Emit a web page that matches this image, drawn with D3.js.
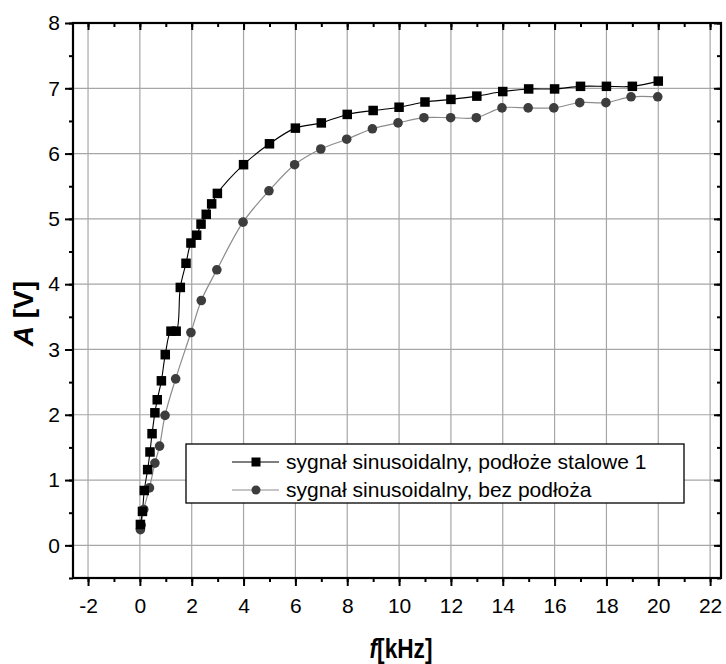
<!doctype html>
<html lang="pl">
<head>
	<meta charset="utf-8">
	<title>A(f)</title>
	<script src="https://cdn.jsdelivr.net/npm/d3@7"></script>
	<style>
		body { margin:0; background:#fff; }
		text { font-family: "Liberation Sans", Arial, sans-serif; }
	</style>
</head>
<body>
	<svg id="chart" width="726" height="664"></svg>
	<script>
		var fStal = [0.02,0.1,0.17,0.3,0.39,0.47,0.58,0.67,0.83,0.98,1.2,1.4,1.56,1.78,1.97,2.19,2.36,2.56,2.77,2.99,4,5,6,7,8,9,10,11,12,13,14,15,16,17,18,19,20];
		var aStal = [0.32,0.52,0.84,1.16,1.43,1.71,2.03,2.23,2.52,2.92,3.28,3.28,3.95,4.32,4.63,4.75,4.92,5.07,5.23,5.39,5.83,6.15,6.39,6.47,6.6,6.66,6.71,6.79,6.83,6.88,6.95,6.99,6.99,7.03,7.03,7.03,7.11];
		var fBez = [0.02,0.05,0.15,0.37,0.58,0.76,0.97,1.38,1.97,2.37,2.97,3.98,4.98,5.97,6.98,7.98,8.97,9.96,10.96,11.99,12.98,13.97,14.98,15.97,16.97,17.98,18.95,19.98];
		var aBez = [0.24,0.31,0.55,0.88,1.26,1.52,1.99,2.55,3.26,3.75,4.22,4.95,5.43,5.83,6.07,6.22,6.38,6.47,6.55,6.55,6.55,6.7,6.7,6.7,6.78,6.78,6.87,6.87];
		var xTicks = [-2,0,2,4,6,8,10,12,14,16,18,20,22];
		var yTicks = [0,1,2,3,4,5,6,7,8];
		var legendLabels = ["sygnał sinusoidalny, podłoże stalowe 1", "sygnał sinusoidalny, bez podłoża"];

		var svg = d3.select("#chart");
		var pLeft = 73, pRight = 721, pTop = 23, pBottom = 578;

		var xScale = d3.scaleLinear().domain([-2.58, 22.42]).range([pLeft, pRight]);
		var yScale = d3.scaleLinear().domain([-0.5, 8]).range([pBottom, pTop]);

		var xMinor = d3.range(-2, 22.5, 1);
		var yMinor = d3.range(-0.5, 8.01, 0.5);
		var plain = function(d) {return String(d)};

		// siatka
		svg.append("g").selectAll("line")
			.data(xTicks)
			.enter()
			.append("line")
			.attr("x1", function(d) {return xScale(d)})
			.attr("x2", function(d) {return xScale(d)})
			.attr("y1", pTop).attr("y2", pBottom)
			.style("stroke", "#a6a6a6").style("stroke-width", 1.2);
		svg.append("g").selectAll("line")
			.data(yTicks.slice(0, -1))
			.enter()
			.append("line")
			.attr("y1", function(d) {return yScale(d)})
			.attr("y2", function(d) {return yScale(d)})
			.attr("x1", pLeft).attr("x2", pRight)
			.style("stroke", "#a6a6a6").style("stroke-width", 1.2);

		// osie: dol i lewa z opisami, gora i prawa bez
		var xAxis = d3.axisBottom(xScale).tickValues(xTicks).tickSize(8).tickPadding(12).tickFormat(plain);
		var yAxis = d3.axisLeft(yScale).tickValues(yTicks).tickSize(8).tickPadding(5).tickFormat(plain);
		var xMinAxis = d3.axisBottom(xScale).tickValues(xMinor).tickSize(4).tickFormat("");
		var yMinAxis = d3.axisLeft(yScale).tickValues(yMinor).tickSize(4).tickFormat("");

		svg.append("g").attr("class", "ax").attr("transform", "translate(0," + pBottom + ")").call(xAxis);
		svg.append("g").attr("class", "ax").attr("transform", "translate(0," + pBottom + ")").call(xMinAxis);
		svg.append("g").attr("class", "ax").attr("transform", "translate(" + pLeft + ",0)").call(yAxis);
		svg.append("g").attr("class", "ax").attr("transform", "translate(" + pLeft + ",0)").call(yMinAxis);
		svg.append("g").attr("class", "ax").attr("transform", "translate(0," + pTop + ")")
			.call(d3.axisBottom(xScale).tickValues(xTicks).tickSize(7).tickFormat(""));
		svg.append("g").attr("class", "ax").attr("transform", "translate(0," + pTop + ")")
			.call(d3.axisBottom(xScale).tickValues(xMinor).tickSize(4).tickFormat(""));
		svg.append("g").attr("class", "ax").attr("transform", "translate(" + pRight + ",0)")
			.call(d3.axisLeft(yScale).tickValues(yTicks).tickSize(7).tickFormat(""));
		svg.append("g").attr("class", "ax").attr("transform", "translate(" + pRight + ",0)")
			.call(d3.axisLeft(yScale).tickValues(yMinor).tickSize(4).tickFormat(""));

		svg.selectAll("g.ax path").remove();
		svg.selectAll("g.ax line").style("stroke", "#000").style("stroke-width", 2);
		svg.selectAll("g.ax text").style("font-size", "21px").style("fill", "#000")
			.style("font-family", "'Liberation Sans', Arial, sans-serif");

		// ramka
		svg.append("rect")
			.attr("x", pLeft).attr("y", pTop)
			.attr("width", pRight - pLeft).attr("height", pBottom - pTop)
			.style("fill", "none").style("stroke", "#000").style("stroke-width", 2.2);

		// krzywe
		var stal = fStal.map(function(d, i) {return [d, aStal[i]]});
		var bez = fBez.map(function(d, i) {return [d, aBez[i]]});
		var line = d3.line().curve(d3.curveCatmullRom)
			.x(function(d) {return xScale(d[0])})
			.y(function(d) {return yScale(d[1])});

		svg.append("path").attr("d", line(bez))
			.attr("fill", "none").attr("stroke", "#8c8c8c").attr("stroke-width", 1.2);
		svg.append("path").attr("d", line(stal))
			.attr("fill", "none").attr("stroke", "#000").attr("stroke-width", 1.1);

		svg.selectAll("circle.bez")
			.data(bez)
			.enter()
			.append("circle")
			.attr("class", "bez")
			.attr("r", 4.8)
			.attr("cx", function(d) {return xScale(d[0])})
			.attr("cy", function(d) {return yScale(d[1])})
			.style("fill", "#3d3d3d");

		svg.selectAll("rect.stal")
			.data(stal)
			.enter()
			.append("rect")
			.attr("class", "stal")
			.attr("width", 9.5).attr("height", 9.5)
			.attr("x", function(d) {return xScale(d[0]) - 4.75})
			.attr("y", function(d) {return yScale(d[1]) - 4.75})
			.style("fill", "#000");

		// legenda
		var leg = svg.append("g");
		leg.append("rect")
			.attr("x", 186).attr("y", 444).attr("width", 498).attr("height", 59)
			.style("fill", "#fff").style("stroke", "#000").style("stroke-width", 1.3);
		var rows = [462, 490];
		leg.selectAll("line")
			.data(rows)
			.enter()
			.append("line")
			.attr("x1", 232).attr("x2", 279)
			.attr("y1", function(d) {return d}).attr("y2", function(d) {return d})
			.style("stroke", function(d, i) {return i == 0 ? "#000" : "#8c8c8c"})
			.style("stroke-width", 1.2);
		leg.append("rect").attr("x", 251.5).attr("y", rows[0] - 4.5).attr("width", 9).attr("height", 9).style("fill", "#000");
		leg.append("circle").attr("cx", 256).attr("cy", rows[1]).attr("r", 4.5).style("fill", "#3d3d3d");
		leg.selectAll("text")
			.data(legendLabels)
			.enter()
			.append("text")
			.attr("x", 286)
			.attr("y", function(d, i) {return rows[i]})
			.attr("dy", "0.35em")
			.style("font-size", "21px")
			.text(function(d) {return d});

		// opisy osi
		var yl = svg.append("text")
			.attr("transform", "translate(33," + yScale(3.55) + ") rotate(-90)")
			.attr("text-anchor", "middle")
			.style("font-size", "28px").style("font-weight", "bold");
		yl.append("tspan").style("font-style", "italic").text("A");
		yl.append("tspan").text(" [V]");

		var xl = svg.append("text")
			.attr("transform", "translate(401,658) scale(0.84,1)")
			.attr("text-anchor", "middle")
			.style("font-size", "27px").style("font-weight", "bold");
		xl.append("tspan").style("font-style", "italic").text("f");
		xl.append("tspan").text("[kHz]");
	</script>
</body>
</html>
